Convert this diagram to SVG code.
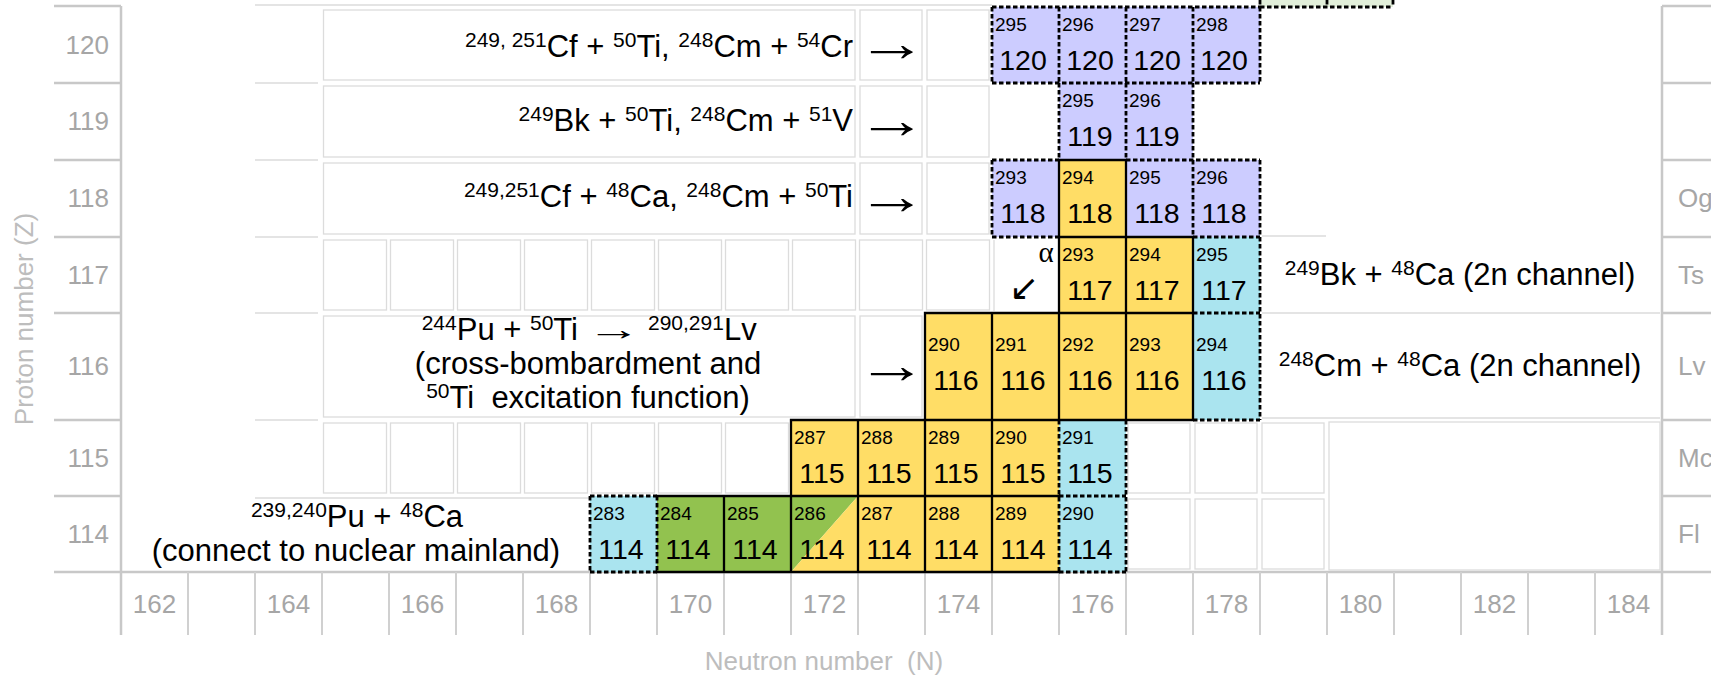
<svg xmlns="http://www.w3.org/2000/svg" width="1711" height="681" viewBox="0 0 1711 681">
<style>
text{font-family:"Liberation Sans",Arial,sans-serif}
.ax{fill:#a6a6a6;font-size:26px}
.axr{fill:#a6a6a6;font-size:26px;text-anchor:end}
.axm{fill:#a6a6a6;font-size:26px;text-anchor:middle}
.axt{fill:#bdbdbd;font-size:26px;text-anchor:middle}
.axl{stroke:#c8c8c8;stroke-width:2.5;fill:none}
.tick{stroke:#d0d0d0;stroke-width:2;fill:none}
.gb{fill:none;stroke:#dcdcdc;stroke-width:1.3}
.gl{stroke:#dcdcdc;stroke-width:1.3;fill:none}
.P{fill:#ccccff}.Y{fill:#ffdd66}.C{fill:#aae4ef}.G{fill:#92c24f}.LG{fill:#e2efda}
.a{font-size:19px;fill:#000}
.z{font-size:28.5px;fill:#000;text-anchor:middle}
.t{font-size:31px;fill:#000}
.s{font-size:21px}
.arr{font-size:52px;fill:#000;text-anchor:middle}
.sol{stroke:#000;stroke-width:2.3;fill:none;stroke-linecap:square}
.dsh{stroke:#000;stroke-width:2.8;fill:none;stroke-dasharray:4.5 2.5}
</style>

<g id="axes">
<path class="axl" d="M121 6V635 M1662 6V635 M54 572H1662 M54 6H121 M54 83H121 M54 160H121 M54 237H121 M54 313H121 M54 420H121 M54 496H121 M1662 6H1711 M1662 83H1711 M1662 160H1711 M1662 237H1711 M1662 313H1711 M1662 420H1711 M1662 496H1711 M1662 572H1711"/>
<path class="tick" d="M188 572V635 M255 572V635 M322 572V635 M389 572V635 M456 572V635 M523 572V635 M590 572V635 M657 572V635 M724 572V635 M791 572V635 M858 572V635 M925 572V635 M992 572V635 M1059 572V635 M1126 572V635 M1193 572V635 M1260 572V635 M1327 572V635 M1394 572V635 M1461 572V635 M1528 572V635 M1595 572V635"/>
<text class="axr" x="109" y="54">120</text>
<text class="axr" x="109" y="130">119</text>
<text class="axr" x="109" y="207">118</text>
<text class="axr" x="109" y="284">117</text>
<text class="axr" x="109" y="375">116</text>
<text class="axr" x="109" y="467">115</text>
<text class="axr" x="109" y="543">114</text>
<text class="ax" x="1678" y="207">Og</text>
<text class="ax" x="1678" y="284">Ts</text>
<text class="ax" x="1678" y="375">Lv</text>
<text class="ax" x="1678" y="467">Mc</text>
<text class="ax" x="1678" y="543">Fl</text>
<text class="axm" x="154.5" y="613">162</text>
<text class="axm" x="288.5" y="613">164</text>
<text class="axm" x="422.5" y="613">166</text>
<text class="axm" x="556.5" y="613">168</text>
<text class="axm" x="690.5" y="613">170</text>
<text class="axm" x="824.5" y="613">172</text>
<text class="axm" x="958.5" y="613">174</text>
<text class="axm" x="1092.5" y="613">176</text>
<text class="axm" x="1226.5" y="613">178</text>
<text class="axm" x="1360.5" y="613">180</text>
<text class="axm" x="1494.5" y="613">182</text>
<text class="axm" x="1628.5" y="613">184</text>
<text class="axt" x="824" y="670">Neutron number&#160; (N)</text>
<text class="axt" transform="translate(33 319) rotate(-90)">Proton number (Z)</text>
</g>

<g id="grid">
<path class="gl" d="M255 5H992 M255 83H318 M255 160H318 M255 237H318 M255 313H318 M255 420H318 M255 498H589 M1262 236H1326 M1262 313H1660 M1262 418H1660 M994 240V311"/>
<rect class="gb" x="323.5" y="10" width="531.5" height="70"/>
<rect class="gb" x="860" y="10" width="62" height="70"/>
<rect class="gb" x="927" y="10" width="62" height="70"/>
<rect class="gb" x="323.5" y="86" width="531.5" height="71"/>
<rect class="gb" x="860" y="86" width="62" height="71"/>
<rect class="gb" x="927" y="86" width="62" height="71"/>
<rect class="gb" x="323.5" y="163" width="531.5" height="71"/>
<rect class="gb" x="860" y="163" width="62" height="71"/>
<rect class="gb" x="927" y="163" width="62" height="71"/>
<rect class="gb" x="323.5" y="240" width="63" height="70"/>
<rect class="gb" x="390.5" y="240" width="63" height="70"/>
<rect class="gb" x="457.5" y="240" width="63" height="70"/>
<rect class="gb" x="524.5" y="240" width="63" height="70"/>
<rect class="gb" x="591.5" y="240" width="63" height="70"/>
<rect class="gb" x="658.5" y="240" width="63" height="70"/>
<rect class="gb" x="725.5" y="240" width="63" height="70"/>
<rect class="gb" x="792.5" y="240" width="63" height="70"/>
<rect class="gb" x="859.5" y="240" width="63" height="70"/>
<rect class="gb" x="926.5" y="240" width="63" height="70"/>
<rect class="gb" x="323.5" y="316" width="531.5" height="101"/>
<rect class="gb" x="860" y="316" width="62" height="101"/>
<rect class="gb" x="323.5" y="423" width="63" height="70"/>
<rect class="gb" x="390.5" y="423" width="63" height="70"/>
<rect class="gb" x="457.5" y="423" width="63" height="70"/>
<rect class="gb" x="524.5" y="423" width="63" height="70"/>
<rect class="gb" x="591.5" y="423" width="63" height="70"/>
<rect class="gb" x="658.5" y="423" width="63" height="70"/>
<rect class="gb" x="725.5" y="423" width="63" height="70"/>
<rect class="gb" x="1128" y="423" width="62" height="70"/>
<rect class="gb" x="1195" y="423" width="62" height="70"/>
<rect class="gb" x="1262" y="423" width="62" height="70"/>
<rect class="gb" x="1128" y="499" width="62" height="70"/>
<rect class="gb" x="1195" y="499" width="62" height="70"/>
<rect class="gb" x="1262" y="499" width="62" height="70"/>
<rect class="gb" x="1329" y="422" width="331" height="148"/>
</g>

<g id="cells">
<g id="n299-121"><rect class="LG" x="1260" y="0" width="67" height="7"/></g>
<g id="n300-121"><rect class="LG" x="1327" y="0" width="66" height="7"/></g>

<g id="n295-120"><rect class="P" x="992" y="7" width="67" height="76"/><text class="a" x="995" y="31">295</text><text class="z" x="1023" y="70">120</text></g>
<g id="n296-120"><rect class="P" x="1059" y="7" width="67" height="76"/><text class="a" x="1062" y="31">296</text><text class="z" x="1090" y="70">120</text></g>
<g id="n297-120"><rect class="P" x="1126" y="7" width="67" height="76"/><text class="a" x="1129" y="31">297</text><text class="z" x="1157" y="70">120</text></g>
<g id="n298-120"><rect class="P" x="1193" y="7" width="67" height="76"/><text class="a" x="1196" y="31">298</text><text class="z" x="1224" y="70">120</text></g>

<g id="n295-119"><rect class="P" x="1059" y="83" width="67" height="77"/><text class="a" x="1062" y="107">295</text><text class="z" x="1090" y="146">119</text></g>
<g id="n296-119"><rect class="P" x="1126" y="83" width="67" height="77"/><text class="a" x="1129" y="107">296</text><text class="z" x="1157" y="146">119</text></g>

<g id="n293-118"><rect class="P" x="992" y="160" width="67" height="77"/><text class="a" x="995" y="184">293</text><text class="z" x="1023" y="223">118</text></g>
<g id="n294-118"><rect class="Y" x="1059" y="160" width="67" height="77"/><text class="a" x="1062" y="184">294</text><text class="z" x="1090" y="223">118</text></g>
<g id="n295-118"><rect class="P" x="1126" y="160" width="67" height="77"/><text class="a" x="1129" y="184">295</text><text class="z" x="1157" y="223">118</text></g>
<g id="n296-118"><rect class="P" x="1193" y="160" width="67" height="77"/><text class="a" x="1196" y="184">296</text><text class="z" x="1224" y="223">118</text></g>

<g id="n293-117"><rect class="Y" x="1059" y="237" width="67" height="76"/><text class="a" x="1062" y="261">293</text><text class="z" x="1090" y="300">117</text></g>
<g id="n294-117"><rect class="Y" x="1126" y="237" width="67" height="76"/><text class="a" x="1129" y="261">294</text><text class="z" x="1157" y="300">117</text></g>
<g id="n295-117"><rect class="C" x="1193" y="237" width="67" height="76"/><text class="a" x="1196" y="261">295</text><text class="z" x="1224" y="300">117</text></g>

<g id="n290-116"><rect class="Y" x="925" y="313" width="67" height="107"/><text class="a" x="928" y="351">290</text><text class="z" x="956" y="390">116</text></g>
<g id="n291-116"><rect class="Y" x="992" y="313" width="67" height="107"/><text class="a" x="995" y="351">291</text><text class="z" x="1023" y="390">116</text></g>
<g id="n292-116"><rect class="Y" x="1059" y="313" width="67" height="107"/><text class="a" x="1062" y="351">292</text><text class="z" x="1090" y="390">116</text></g>
<g id="n293-116"><rect class="Y" x="1126" y="313" width="67" height="107"/><text class="a" x="1129" y="351">293</text><text class="z" x="1157" y="390">116</text></g>
<g id="n294-116"><rect class="C" x="1193" y="313" width="67" height="107"/><text class="a" x="1196" y="351">294</text><text class="z" x="1224" y="390">116</text></g>

<g id="n287-115"><rect class="Y" x="791" y="420" width="67" height="76"/><text class="a" x="794" y="444">287</text><text class="z" x="822" y="483">115</text></g>
<g id="n288-115"><rect class="Y" x="858" y="420" width="67" height="76"/><text class="a" x="861" y="444">288</text><text class="z" x="889" y="483">115</text></g>
<g id="n289-115"><rect class="Y" x="925" y="420" width="67" height="76"/><text class="a" x="928" y="444">289</text><text class="z" x="956" y="483">115</text></g>
<g id="n290-115"><rect class="Y" x="992" y="420" width="67" height="76"/><text class="a" x="995" y="444">290</text><text class="z" x="1023" y="483">115</text></g>
<g id="n291-115"><rect class="C" x="1059" y="420" width="67" height="76"/><text class="a" x="1062" y="444">291</text><text class="z" x="1090" y="483">115</text></g>

<g id="n283-114"><rect class="C" x="590" y="496" width="67" height="76"/><text class="a" x="593" y="520">283</text><text class="z" x="621" y="559">114</text></g>
<g id="n284-114"><rect class="G" x="657" y="496" width="67" height="76"/><text class="a" x="660" y="520">284</text><text class="z" x="688" y="559">114</text></g>
<g id="n285-114"><rect class="G" x="724" y="496" width="67" height="76"/><text class="a" x="727" y="520">285</text><text class="z" x="755" y="559">114</text></g>
<g id="n286-114"><polygon class="G" points="791,496 858,496 791,572"/><polygon class="Y" points="858,496 858,572 791,572"/><text class="a" x="794" y="520">286</text><text class="z" x="822" y="559">114</text></g>
<g id="n287-114"><rect class="Y" x="858" y="496" width="67" height="76"/><text class="a" x="861" y="520">287</text><text class="z" x="889" y="559">114</text></g>
<g id="n288-114"><rect class="Y" x="925" y="496" width="67" height="76"/><text class="a" x="928" y="520">288</text><text class="z" x="956" y="559">114</text></g>
<g id="n289-114"><rect class="Y" x="992" y="496" width="67" height="76"/><text class="a" x="995" y="520">289</text><text class="z" x="1023" y="559">114</text></g>
<g id="n290-114"><rect class="C" x="1059" y="496" width="67" height="76"/><text class="a" x="1062" y="520">290</text><text class="z" x="1090" y="559">114</text></g>
</g>

<g id="cell-borders">
<path class="dsh" d="M992 7H1260 M992 83H1260 M992 7V83 M1059 7V83 M1126 7V83 M1193 7V83 M1260 7V83 M1059 83V160 M1126 83V160 M1193 83V160 M992 160H1059 M1126 160H1260 M992 160V237 M1193 160V237 M1260 160V237 M992 237H1059 M1193 237H1260 M1260 237V420 M1193 313H1260 M1193 420H1260 M1059 420V572 M1126 420V572 M1059 496H1126 M1059 572H1126 M590 496V572 M657 496V572 M590 496H657 M590 572H657 M1260 7H1393 M1260 0V7 M1327 0V7 M1393 0V7"/>
<path class="sol" d="M1059 160H1126 M1059 237H1193 M925 313H1193 M791 420H1193 M657 496H1059 M657 572H1059 M1059 160V420 M1126 160V420 M1193 237V420 M925 313V420 M992 313V420 M791 420V572 M858 420V572 M925 420V572 M992 420V572 M724 496V572"/>
</g>

<g id="labels">
<g id="r120"><text class="t" x="853" y="57" text-anchor="end"><tspan class="s" dy="-10">249, 251</tspan><tspan dy="10">Cf + </tspan><tspan class="s" dy="-10">50</tspan><tspan dy="10">Ti, </tspan><tspan class="s" dy="-10">248</tspan><tspan dy="10">Cm + </tspan><tspan class="s" dy="-10">54</tspan><tspan dy="10">Cr</tspan></text><text class="arr" transform="translate(892 61) scale(1.36 1)">→</text></g>
<g id="r119"><text class="t" x="853" y="131" text-anchor="end"><tspan class="s" dy="-10">249</tspan><tspan dy="10">Bk + </tspan><tspan class="s" dy="-10">50</tspan><tspan dy="10">Ti, </tspan><tspan class="s" dy="-10">248</tspan><tspan dy="10">Cm + </tspan><tspan class="s" dy="-10">51</tspan><tspan dy="10">V</tspan></text><text class="arr" transform="translate(892 138) scale(1.36 1)">→</text></g>
<g id="r118"><text class="t" x="853" y="207" text-anchor="end"><tspan class="s" dy="-10">249,251</tspan><tspan dy="10">Cf + </tspan><tspan class="s" dy="-10">48</tspan><tspan dy="10">Ca, </tspan><tspan class="s" dy="-10">248</tspan><tspan dy="10">Cm + </tspan><tspan class="s" dy="-10">50</tspan><tspan dy="10">Ti</tspan></text><text class="arr" transform="translate(892 214) scale(1.36 1)">→</text></g>
<g id="alpha"><text><tspan x="1046" y="262" text-anchor="middle" font-size="29" style="font-family:'Liberation Serif',serif">α</tspan><tspan x="1024" y="300" text-anchor="middle" font-size="36" style="font-family:'DejaVu Sans',sans-serif">↙</tspan></text></g>
<g id="r117"><text class="t" x="1460" y="285" text-anchor="middle"><tspan class="s" dy="-10">249</tspan><tspan dy="10">Bk + </tspan><tspan class="s" dy="-10">48</tspan><tspan dy="10">Ca (2n channel)</tspan></text></g>
<g id="r116"><text class="t"><tspan x="578" y="340" text-anchor="end"><tspan class="s" dy="-10">244</tspan><tspan dy="10">Pu + </tspan><tspan class="s" dy="-10">50</tspan><tspan dy="10">Ti</tspan></tspan><tspan x="648" y="340"><tspan class="s" dy="-10">290,291</tspan><tspan dy="10">Lv</tspan></tspan><tspan x="588" y="374" text-anchor="middle">(cross-bombardment and</tspan><tspan x="588" y="408" text-anchor="middle"><tspan class="s" dy="-10">50</tspan><tspan dy="10">Ti&#160; excitation function)</tspan></tspan></text><text class="t" text-anchor="middle" transform="translate(614 340) scale(1.75 1)">→</text><text class="arr" transform="translate(892 383) scale(1.36 1)">→</text></g>
<g id="r116b"><text class="t" x="1460" y="376" text-anchor="middle"><tspan class="s" dy="-10">248</tspan><tspan dy="10">Cm + </tspan><tspan class="s" dy="-10">48</tspan><tspan dy="10">Ca (2n channel)</tspan></text></g>
<g id="r114"><text class="t" text-anchor="middle"><tspan x="357" y="527"><tspan class="s" dy="-10">239,240</tspan><tspan dy="10">Pu + </tspan><tspan class="s" dy="-10">48</tspan><tspan dy="10">Ca</tspan></tspan><tspan x="356" y="561">(connect to nuclear mainland)</tspan></text></g>
</g>
</svg>
